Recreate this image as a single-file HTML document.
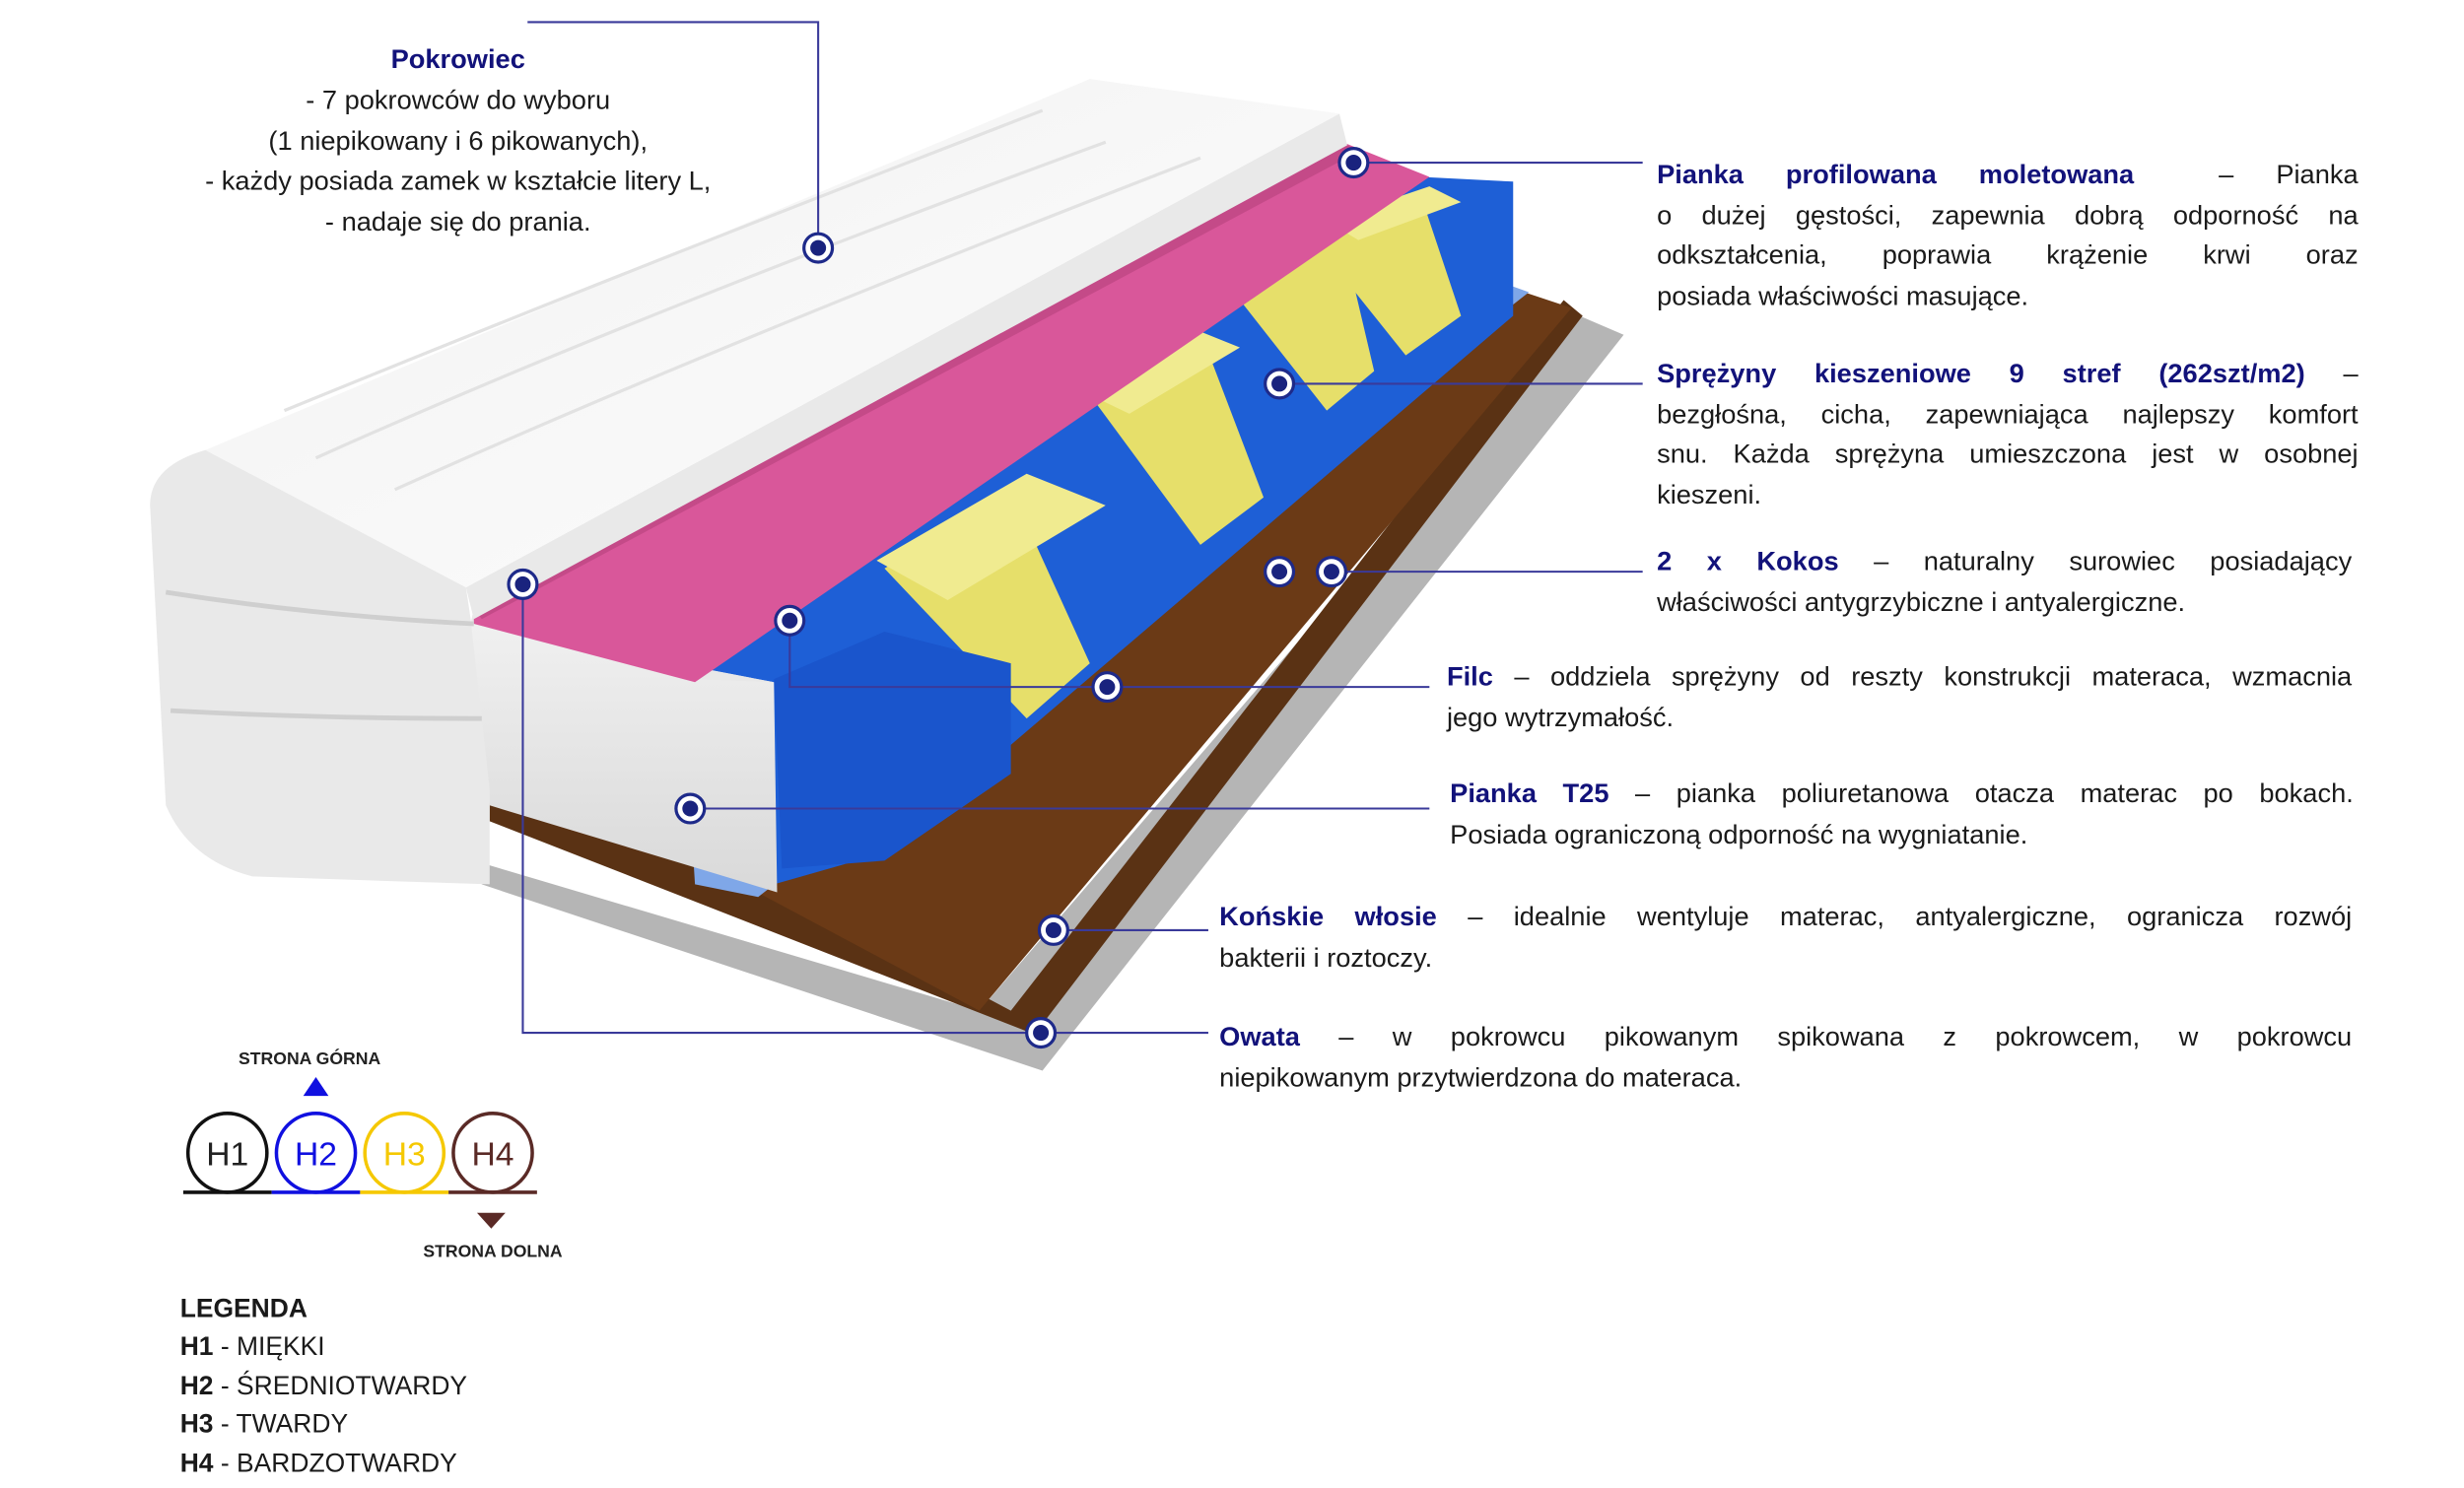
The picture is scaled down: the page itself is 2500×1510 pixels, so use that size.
<!DOCTYPE html>
<html><head><meta charset="utf-8">
<style>
html,body{margin:0;padding:0;background:#fff;overflow:hidden}
#stage{position:absolute;left:0;top:0;width:1560px;height:942.2px;transform:scale(1.60256);transform-origin:0 0;font-family:"Liberation Sans",sans-serif;color:#1a1a1a}
.t{position:absolute;font-size:17px;line-height:25.5px}
.j{text-align:justify;text-align-last:justify;white-space:nowrap;overflow:visible}
.j span{display:inline}
.l{text-align:left;white-space:nowrap}
b.h{color:#12127a;font-weight:bold}
svg{position:absolute;left:0;top:0}
</style></head><body>
<div id="stage">
<svg width="1560" height="942" viewBox="0 0 1560 942">
 <defs>
  <linearGradient id="cov" x1="0" y1="0" x2="1" y2="1"><stop offset="0" stop-color="#f2f2f2"/><stop offset="1" stop-color="#fdfdfd"/></linearGradient>
  <linearGradient id="side" x1="0" y1="0" x2="0" y2="1"><stop offset="0" stop-color="#f0f0f0"/><stop offset="1" stop-color="#d9d9d9"/></linearGradient>
 </defs>
 <!-- gray owata bottom -->
 <polygon points="300,545 620,640 1000,200 1028,212 660,678 305,560" fill="#b5b5b5"/>
 <!-- coconut -->
 <polygon points="310,495 490,560 640,640 990,190 1002,200 655,655 310,520" fill="#5a3214"/>
 <polygon points="470,560 965,185 995,195 620,640" fill="#6b3a16"/>
 <!-- felt -->
 <polygon points="432,432 940,175 968,185 480,568 440,560" fill="#7fa7e8"/>
 <!-- springs -->
 <polygon points="430,432 860,110 958,115 958,200 560,540 490,560" fill="#1e5fd6"/>
 <polygon points="560,360 640,310 690,420 650,455" fill="#e6df6a"/>
 <polygon points="555,355 650,300 700,320 600,380" fill="#f0eb90"/>
 <polygon points="690,250 760,210 800,315 760,345" fill="#e6df6a"/>
 <polygon points="690,250 760,210 785,220 715,262" fill="#f0eb90"/>
 <polygon points="785,190 850,150 870,235 840,260" fill="#e6df6a"/>
 <polygon points="830,150 900,125 925,200 890,225" fill="#e6df6a"/>
 <polygon points="840,140 905,118 925,128 860,152" fill="#f0eb90"/>
 <polygon points="490,430 560,400 640,420 640,490 560,545 495,550" fill="#1a55cc"/>
 <!-- T25 side block -->
 <polygon points="298,395 490,432 492,565 310,510" fill="url(#side)"/>
 <polygon points="298,395 490,432 440,430 300,385" fill="#e8e8e8"/>
 <!-- pink foam -->
 <polygon points="300,385 850,90 905,112 440,432 300,395" fill="#d9579a"/>
 <polygon points="300,385 850,90 860,96 305,392" fill="#c44a88"/>
 <!-- white strip -->
 <polygon points="295,372 848,72 853,92 300,392" fill="#e9e9e9"/>
 <!-- cover top -->
 <polygon points="130,285 690,50 848,72 295,372" fill="url(#cov)"/>
 <path d="M200,290 Q400,200 700,90 M250,310 Q450,220 760,100 M180,260 Q400,170 660,70" stroke="#e2e2e2" fill="none" stroke-width="2"/>
 <!-- cover side left -->
 <path d="M130,285 Q95,295 95,320 L105,510 Q120,545 160,555 L310,560 L310,500 L298,392 L295,372 Z" fill="#e9e9e9"/>
 <path d="M105,375 Q200,390 300,395" stroke="#cfcfcf" stroke-width="3" fill="none"/>
 <path d="M108,450 Q200,455 305,455" stroke="#cfcfcf" stroke-width="3" fill="none"/>
 <!-- connectors -->
 <g stroke="#3a3a9a" stroke-width="1.3" fill="none">
  <polyline points="334,14 518,14 518,157"/>
  <line x1="857" y1="103" x2="1040" y2="103"/>
  <line x1="810" y1="243" x2="1040" y2="243"/>
  <line x1="843" y1="362" x2="1040" y2="362"/>
  <polyline points="500,393 500,435 905,435"/>
  <line x1="437" y1="512" x2="905" y2="512"/>
  <line x1="667" y1="589" x2="765" y2="589"/>
  <polyline points="331,370 331,654 765,654"/>
 </g>
 <g>
  <g transform="translate(518,157)"><circle r="9" fill="#fff" stroke="#1e2a8a" stroke-width="2"/><circle r="5" fill="#1a237e"/></g>
  <g transform="translate(857,103)"><circle r="9" fill="#fff" stroke="#1e2a8a" stroke-width="2"/><circle r="5" fill="#1a237e"/></g>
  <g transform="translate(810,243)"><circle r="9" fill="#fff" stroke="#1e2a8a" stroke-width="2"/><circle r="5" fill="#1a237e"/></g>
  <g transform="translate(810,362)"><circle r="9" fill="#fff" stroke="#1e2a8a" stroke-width="2"/><circle r="5" fill="#1a237e"/></g>
  <g transform="translate(843,362)"><circle r="9" fill="#fff" stroke="#1e2a8a" stroke-width="2"/><circle r="5" fill="#1a237e"/></g>
  <g transform="translate(701,435)"><circle r="9" fill="#fff" stroke="#1e2a8a" stroke-width="2"/><circle r="5" fill="#1a237e"/></g>
  <g transform="translate(500,393)"><circle r="9" fill="#fff" stroke="#1e2a8a" stroke-width="2"/><circle r="5" fill="#1a237e"/></g>
  <g transform="translate(331,370)"><circle r="9" fill="#fff" stroke="#1e2a8a" stroke-width="2"/><circle r="5" fill="#1a237e"/></g>
  <g transform="translate(437,512)"><circle r="9" fill="#fff" stroke="#1e2a8a" stroke-width="2"/><circle r="5" fill="#1a237e"/></g>
  <g transform="translate(667,589)"><circle r="9" fill="#fff" stroke="#1e2a8a" stroke-width="2"/><circle r="5" fill="#1a237e"/></g>
  <g transform="translate(659,654)"><circle r="9" fill="#fff" stroke="#1e2a8a" stroke-width="2"/><circle r="5" fill="#1a237e"/></g>
 </g>
 <!-- legend -->
 <text x="196" y="674" font-family="Liberation Sans" font-size="11" font-weight="bold" text-anchor="middle" fill="#222">STRONA GÓRNA</text>
 <polygon points="200,682 192,694 208,694" fill="#1010e0"/>
 <g stroke-width="2.2" fill="none">
  <circle cx="144" cy="730" r="25" stroke="#111"/>
  <circle cx="200" cy="730" r="25" stroke="#1010e0"/>
  <circle cx="256" cy="730" r="25" stroke="#f5c800"/>
  <circle cx="312" cy="730" r="25" stroke="#5a2a26"/>
  <line x1="116" y1="755" x2="172" y2="755" stroke="#111"/>
  <line x1="172" y1="755" x2="228" y2="755" stroke="#1010e0"/>
  <line x1="228" y1="755" x2="284" y2="755" stroke="#f5c800"/>
  <line x1="284" y1="755" x2="340" y2="755" stroke="#5a2a26"/>
 </g>
 <g font-family="Liberation Sans" font-size="21" text-anchor="middle">
  <text x="144" y="738" fill="#222">H1</text>
  <text x="200" y="738" fill="#1010e0">H2</text>
  <text x="256" y="738" fill="#f5c800">H3</text>
  <text x="312" y="738" fill="#5a2a26">H4</text>
 </g>
 <polygon points="302,768 320,768 311,778" fill="#5a2a26"/>
 <text x="312" y="796" font-family="Liberation Sans" font-size="11" font-weight="bold" text-anchor="middle" fill="#222">STRONA DOLNA</text>
</svg>

<div class="t" style="left:100px;top:25px;width:380px;text-align:center;font-size:17px;line-height:25.8px">
<b class="h">Pokrowiec</b><br>- 7 pokrowców do wyboru<br>(1 niepikowany i 6 pikowanych),<br>- każdy posiada zamek w kształcie litery L,<br>- nadaje się do prania.</div>

<div class="t" style="left:1049px;top:98px;width:444px">
<div class="j"><b class="h">Pianka profilowana moletowana</b> &nbsp;– Pianka</div>
<div class="j">o dużej gęstości, zapewnia dobrą odporność na</div>
<div class="j">odkształcenia, poprawia krążenie krwi oraz</div>
<div class="l">posiada właściwości masujące.</div></div>

<div class="t" style="left:1049px;top:224px;width:444px">
<div class="j"><b class="h">Sprężyny kieszeniowe 9 stref (262szt/m2)</b> –</div>
<div class="j">bezgłośna, cicha, zapewniająca najlepszy komfort</div>
<div class="j">snu. Każda sprężyna umieszczona jest w osobnej</div>
<div class="l">kieszeni.</div></div>

<div class="t" style="left:1049px;top:343px;width:440px">
<div class="j"><b class="h">2 x Kokos</b> – naturalny surowiec posiadający</div>
<div class="l">właściwości antygrzybiczne i antyalergiczne.</div></div>

<div class="t" style="left:916px;top:416px;width:573px">
<div class="j"><b class="h">Filc</b> – oddziela sprężyny od reszty konstrukcji materaca, wzmacnia</div>
<div class="l">jego wytrzymałość.</div></div>

<div class="t" style="left:918px;top:490px;width:572px">
<div class="j"><b class="h">Pianka T25</b> – pianka poliuretanowa otacza materac po bokach.</div>
<div class="l">Posiada ograniczoną odporność na wygniatanie.</div></div>

<div class="t" style="left:772px;top:568px;width:717px">
<div class="j"><b class="h">Końskie włosie</b> – idealnie wentyluje materac, antyalergiczne, ogranicza rozwój</div>
<div class="l">bakterii i roztoczy.</div></div>

<div class="t" style="left:772px;top:644px;width:717px">
<div class="j"><b class="h">Owata</b> – w pokrowcu pikowanym spikowana z pokrowcem, w pokrowcu</div>
<div class="l">niepikowanym przytwierdzona do materaca.</div></div>

<div class="t" style="left:114px;top:817px;font-size:16.5px;line-height:24.4px">
<b>LEGENDA</b><br><b>H1</b> - MIĘKKI<br><b>H2</b> - ŚREDNIOTWARDY<br><b>H3</b> - TWARDY<br><b>H4</b> - BARDZOTWARDY</div>
</div>
</body></html>
